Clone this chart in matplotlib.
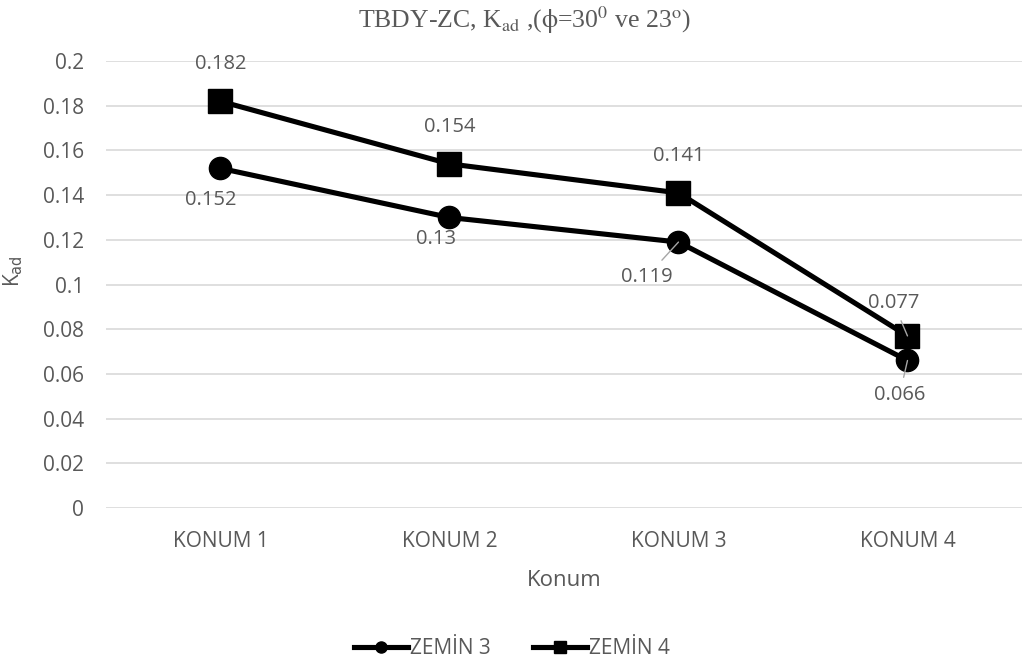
import matplotlib
matplotlib.use("Agg")
import matplotlib.pyplot as plt
from matplotlib.lines import Line2D

# Data
categories = ["KONUM 1", "KONUM 2", "KONUM 3", "KONUM 4"]
zemin3 = [0.152, 0.13, 0.119, 0.066]
zemin4 = [0.182, 0.154, 0.141, 0.077]
y_ticks = [0, 0.02, 0.04, 0.06, 0.08, 0.1, 0.12, 0.14, 0.16, 0.18, 0.2]
y_tick_labels = ["0", "0.02", "0.04", "0.06", "0.08", "0.1", "0.12", "0.14", "0.16", "0.18", "0.2"]

TEXT = "#595959"
GRID = "#d9d9d9"
plt.rcParams["font.family"] = ["Open Sans", "DejaVu Sans"]

fig = plt.figure(figsize=(10.23, 6.69), dpi=100)
ax = fig.add_axes([0.1036, 0.2407, 0.8954, 0.668])

x = list(range(len(categories)))
ax.plot(x, zemin3, color="black", lw=3.7, marker="o", markersize=16, zorder=3)
ax.plot(x, zemin4, color="black", lw=3.7, marker="s", markersize=17.5, zorder=3)

ax.set_xlim(-0.5, len(categories) - 0.5)
ax.set_ylim(0, 0.2)
ax.set_yticks(y_ticks)
ax.set_yticklabels(y_tick_labels)
ax.set_xticks(x)
ax.set_xticklabels(categories)
ax.tick_params(axis="both", length=0, labelsize=15, labelcolor=TEXT)
ax.tick_params(axis="y", pad=16)
ax.tick_params(axis="x", pad=16.5)
ax.grid(axis="y", color=GRID, lw=1.2)
ax.set_axisbelow(True)
for s in ax.spines.values():
    s.set_visible(False)

ax.set_xlabel("Konum", fontsize=16, color=TEXT, labelpad=13)
ax.set_ylabel(r"K$_{\mathrm{ad}}$", fontsize=15, color=TEXT)
ax.yaxis.set_label_coords(-0.088, 0.53)

# Data labels (offsets in pixels); some with leader lines
lead = dict(arrowstyle="-", color="#a6a6a6", lw=1.0, shrinkA=4, shrinkB=0)
label_specs = [
    (zemin4, [(0, 37, False), (0, 37, False), (0, 37, False), (-14, 33, True)]),
    (zemin3, [(-10, -32, False), (-13, -22, False), (-32, -35, True), (-8, -35, True)]),
]
for series, offs in label_specs:
    for i, (val, (dx, dy, leader)) in enumerate(zip(series, offs)):
        ax.annotate(f"{val:g}", xy=(i, val), xytext=(dx, dy),
                    textcoords="offset pixels", ha="center", va="center",
                    fontsize=14.5, color=TEXT, zorder=4,
                    arrowprops=lead if leader else None)

# Title
fig.text(0.513, 0.993, r"TBDY-ZC, K$_{\mathrm{ad}}$ ,($\mathrm{\phi}$=30$^{0}$ ve 23$^{\mathrm{o}}$)",
         ha="center", va="top", fontsize=18.5, color=TEXT,
         family="Liberation Serif", math_fontfamily="stix")

# Legend
handles = [
    Line2D([], [], color="black", lw=3.7, marker="o", markersize=8),
    Line2D([], [], color="black", lw=3.7, marker="s", markersize=9),
]
fig.legend(handles, ["ZEMİN 3", "ZEMİN 4"], loc="center", bbox_to_anchor=(0.5005, 0.030),
           ncol=2, frameon=False, fontsize=15, labelcolor=TEXT,
           handlelength=2.6, handletextpad=0.1, columnspacing=2.0)

fig.savefig("out.png", dpi=100)
